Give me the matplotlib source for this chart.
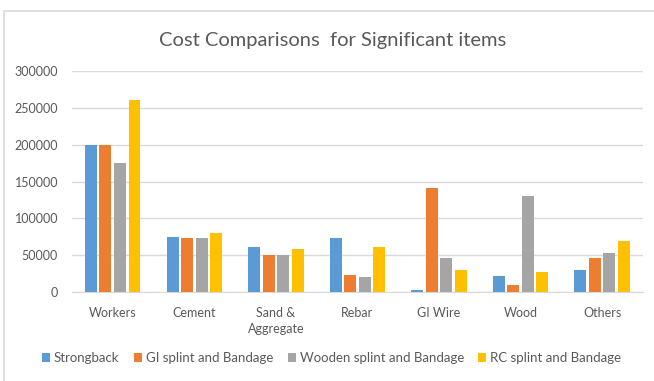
import numpy as np
import matplotlib
matplotlib.use("Agg")
import matplotlib.pyplot as plt
from matplotlib.patches import Rectangle

# Cost per item for each splinting method
items = ["Workers", "Cement", "Sand &\nAggregate", "Rebar", "GI Wire", "Wood", "Others"]
strongback = [200000, 75000, 61500, 73000, 3000, 22000, 30000]
gi_splint = [200000, 73000, 50000, 23000, 141500, 9000, 46500]
wooden_splint = [175000, 73000, 50000, 21000, 46500, 130500, 53000]
rc_splint = [260000, 79500, 58500, 61500, 30000, 27000, 69000]

series = [
    ("Strongback", strongback, "#5B9BD5"),
    ("GI splint and Bandage", gi_splint, "#ED7D31"),
    ("Wooden splint and Bandage", wooden_splint, "#A5A5A5"),
    ("RC splint and Bandage", rc_splint, "#FFC000"),
]

plt.rcParams["font.family"] = ["Lato", "DejaVu Sans"]
text_col = "#595959"

fig = plt.figure(figsize=(6.54, 3.81), dpi=100)
ax = fig.add_axes([0.110, 0.2336, 0.873, 0.58])

x = np.arange(len(items))
step = 0.178
width = 0.147
for i, (name, vals, col) in enumerate(series):
    ax.bar(x + (i - 1.5) * step, vals, width, color=col, label=name, zorder=3)

ax.set_xlim(-0.5, len(items) - 0.5)
ax.set_ylim(0, 300000)
ax.set_yticks(np.arange(0, 300001, 50000))
ax.yaxis.grid(True, color="#D9D9D9", linewidth=1, zorder=0)
for s in ["top", "right", "left"]:
    ax.spines[s].set_visible(False)
ax.spines["bottom"].set_color("#D9D9D9")
ax.tick_params(axis="y", length=0, labelsize=9, labelcolor=text_col, pad=10)
ax.set_xticks(x)
ax.set_xticklabels(items, linespacing=1.35)
ax.tick_params(axis="x", length=0, labelsize=9, labelcolor=text_col, pad=11)

fig.text(0.508, 0.895, "Cost Comparisons  for Significant items",
         ha="center", va="center", fontsize=14.5, color=text_col)

ax.legend(loc="center", bbox_to_anchor=(0.455, -0.30), ncol=4, frameon=False,
          fontsize=9.5, labelcolor=text_col, handlelength=0.6, handleheight=0.6,
          handletextpad=0.3, columnspacing=1.1)

# chart frame
fig.patches.append(Rectangle((0.006, -0.02), 1.1, 0.991, transform=fig.transFigure,
                             fill=False, edgecolor="#D9D9D9", linewidth=1.2))

fig.savefig("out.png", dpi=100)
